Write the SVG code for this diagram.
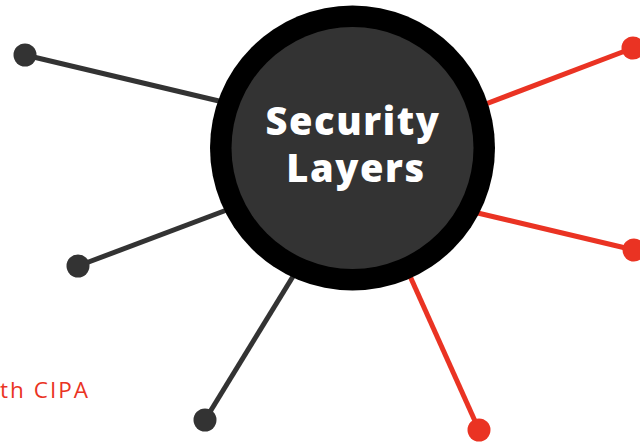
<svg xmlns="http://www.w3.org/2000/svg" width="640" height="444" viewBox="0 0 640 444">
<style>
.g{stroke:#333333;stroke-width:5;fill:none}
.r{stroke:#ea3323;stroke-width:5;fill:none}
.gd{fill:#333333}
.rd{fill:#ea3323}
.title{font-family:"Open Sans","Liberation Sans",sans-serif;font-weight:800;font-size:38px;fill:#ffffff;text-anchor:middle;letter-spacing:1.6px}
.lbl{font-family:"Open Sans","Liberation Sans",sans-serif;font-size:22.5px;fill:#ea3323}
</style>
<rect width="640" height="444" fill="#ffffff"/>
<g id="connectors">
<line class="g" x1="25" y1="55" x2="240" y2="106"/>
<line class="g" x1="78" y1="266" x2="240" y2="205"/>
<line class="g" x1="205" y1="420" x2="300" y2="265"/>
<line class="r" x1="633" y1="48" x2="470" y2="110"/>
<line class="r" x1="634" y1="250" x2="465" y2="210"/>
<line class="r" x1="479" y1="430" x2="405" y2="265"/>
</g>
<g id="dot-tl"><circle class="gd" cx="25" cy="55" r="11.5"/></g>
<g id="dot-ml"><circle class="gd" cx="78" cy="266" r="11.5"/></g>
<g id="dot-bl"><circle class="gd" cx="205" cy="420" r="11.5"/></g>
<g id="dot-tr"><circle class="rd" cx="633" cy="48" r="11.5"/></g>
<g id="dot-mr"><circle class="rd" cx="634" cy="250" r="11.5"/></g>
<g id="dot-br"><circle class="rd" cx="479" cy="430" r="11.5"/></g>
<g id="center">
<circle cx="352.5" cy="148" r="142.5" fill="#000000"/>
<circle cx="352.5" cy="148" r="121" fill="#333333"/>
<text class="title" x="353" y="135">Security</text>
<text class="title" x="356" y="182">Layers</text>
</g>
<g id="label">
<text class="lbl" x="0" y="397.5" textLength="88" lengthAdjust="spacing">th CIPA</text>
</g>
</svg>
